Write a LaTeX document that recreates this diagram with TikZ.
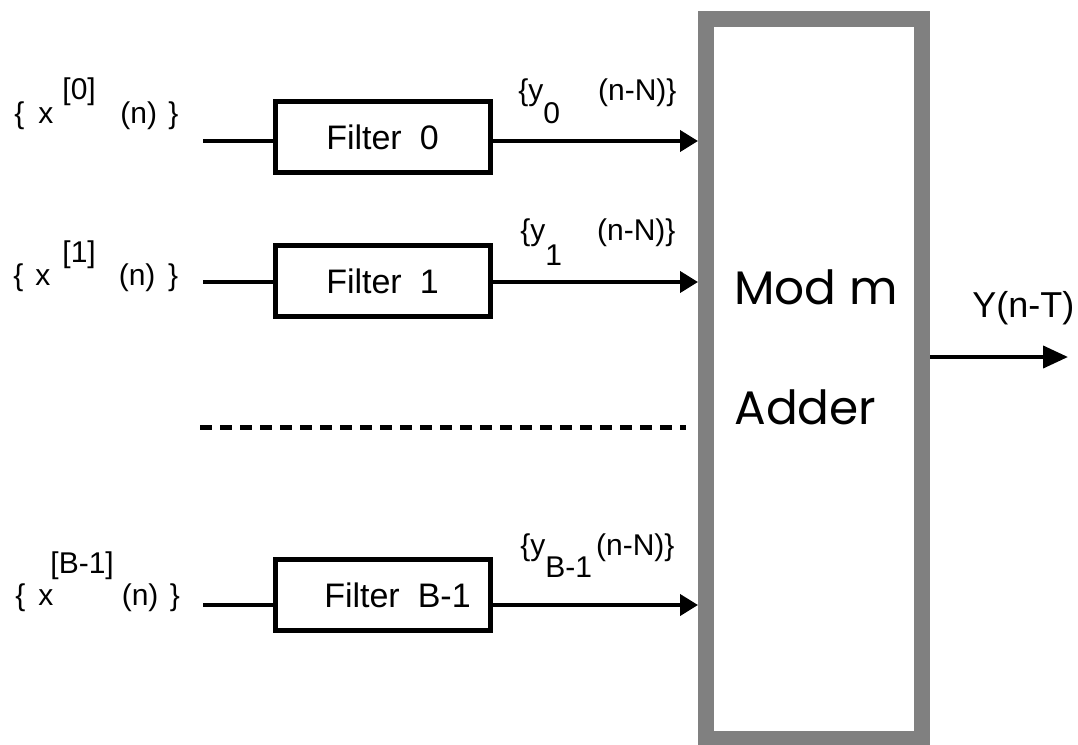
\documentclass[tikz,border=0pt]{standalone}
\usepackage{fontspec}
\setmainfont{Liberation Sans}
\newfontfamily\gothicfont{Poppins}
\usetikzlibrary{arrows.meta}

\begin{document}
\begin{tikzpicture}[x=0.5pt,y=-0.5pt,>={Triangle[length=9pt,width=10.5pt]}]
\tikzstyle{filt}=[draw, line width=2.5pt, rectangle, minimum width=107.5pt, minimum height=35.5pt, font=\fontsize{17}{20}\selectfont]
\tikzstyle{adder}=[draw=gray, line width=8pt, rectangle, minimum width=108pt, minimum height=360pt]
\tikzstyle{sig}=[line width=2pt]
\tikzstyle{xlbl}=[anchor=base west, inner sep=0pt, font=\fontsize{15}{18}\selectfont]
\tikzstyle{ylbl}=[anchor=base west, inner sep=0pt, font=\fontsize{15}{18}\selectfont]
\tikzstyle{addlbl}=[anchor=base west, inner sep=0pt, font=\gothicfont\fontsize{23.5}{28}\selectfont]

\useasboundingbox (0,0) rectangle (1078,745);

% adder
\node[adder] (add) at (814,379) {};
\node[addlbl] (modl) at (734,304) {Mod m};
\node[addlbl] (addl) at (734,424) {Adder};

% filters
\node[filt] (f0) at (382.5,137) {Filter\hspace{9pt}0};
\node[filt] (f1) at (382.5,281) {Filter\hspace{9pt}1};
\node[filt] (f2) at (382.5,595) {\hspace*{15pt}Filter\hspace{9pt}B-1};

% inputs
\node[xlbl] (xin0) at (14,123) {\{\hspace{7pt}x\hspace{4.5pt}\raisebox{12pt}{[0]}\hspace{12.3pt}(n)\hspace{5.7pt}\}};
\node[xlbl] (xin1) at (13,285) {\{\hspace{6pt}x\hspace{6pt}\raisebox{11.5pt}{[1]}\hspace{11.5pt}(n)\hspace{6.4pt}\}};
\node[xlbl] (xin2) at (15,605) {\{\hspace{6.5pt}x\hspace{-1.5pt}\raisebox{16pt}{[B-1]}\hspace{4pt}(n)\hspace{5.7pt}\}};

\coordinate (in0) at (203,141);
\coordinate (in1) at (203,282);
\coordinate (in2) at (203,605);

\draw[sig] (in0) -- (in0 -| f0.west);
\draw[sig] (in1) -- (in1 -| f1.west);
\draw[sig] (in2) -- (in2 -| f2.west);

% outputs of the filters
\draw[sig,->] (in0 -| f0.east) -- (in0 -| add.west);
\draw[sig,->] (in1 -| f1.east) -- (in1 -| add.west);
\draw[sig,->] (in2 -| f2.east) -- (in2 -| add.west);

\node[ylbl] (yl0) at (518,100) {\{y\raisebox{-11.5pt}{0}\hspace{19pt}(n-N)\}};
\node[ylbl] (yl1) at (520,240) {\{y\raisebox{-12.5pt}{1}\hspace{17.5pt}(n-N)\}};
\node[ylbl] (yl2) at (520,555) {\{y\raisebox{-11pt}{B-1}\hspace{2pt}(n-N)\}};

% dots between the branches
\coordinate (dl) at (200,427);
\coordinate (dr) at (686,427);
\draw[line width=2.5pt, dash pattern=on 6pt off 4pt] (dl) -- (dr);

% output
\coordinate (yout) at (1068,357);
\draw[sig,-{Triangle[length=12.5pt,width=11pt]}] (add.east |- yout) -- (yout);
\node[anchor=base west, inner sep=0pt, font=\fontsize{18}{21}\selectfont] (outlbl) at (972,317) {Y(n-T)};
\end{tikzpicture}
\end{document}
